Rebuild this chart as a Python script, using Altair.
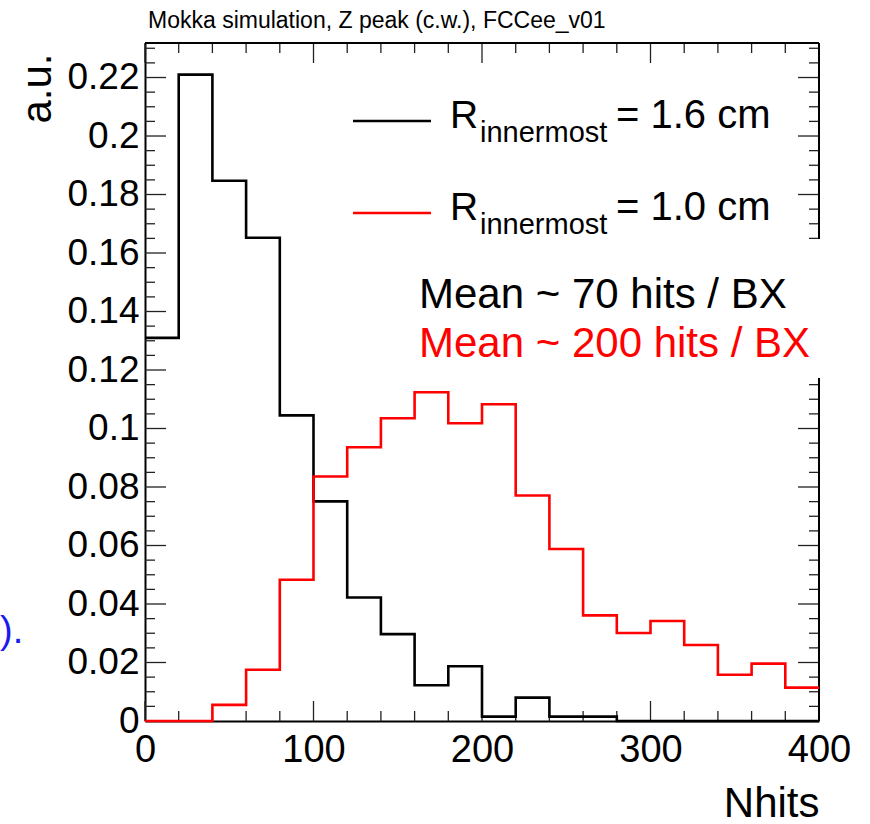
import altair as alt
import pandas as pd

FONT = "Liberation Sans"
W, H = 674, 678

# --- data -------------------------------------------------------------
bin_edges = [0, 20, 40, 60, 80, 100, 120, 140, 160, 180, 200,
             220, 240, 260, 280, 300, 320, 340, 360, 380, 400]
black_vals = [0.131, 0.221, 0.1847, 0.1652, 0.1045, 0.0751, 0.0422, 0.0297,
              0.0122, 0.0187, 0.0015, 0.008, 0.0015, 0.0015, 0.0, 0.0, 0.0,
              0.0, 0.0, 0.0]
red_vals = [0.0, 0.0, 0.0055, 0.0175, 0.0483, 0.0836, 0.0936, 0.1035,
            0.1124, 0.1018, 0.1083, 0.0771, 0.0588, 0.0361, 0.0301, 0.0342,
            0.026, 0.0158, 0.0196, 0.0114]

x_major = [0, 100, 200, 300, 400]
x_minor = [20, 40, 60, 80, 120, 140, 160, 180, 220, 240, 260, 280,
           320, 340, 360, 380]
y_major = [0, 0.02, 0.04, 0.06, 0.08, 0.1, 0.12, 0.14, 0.16, 0.18, 0.2, 0.22]
y_minor = [0.005, 0.01, 0.015, 0.025, 0.03, 0.035, 0.045, 0.05, 0.055,
           0.065, 0.07, 0.075, 0.085, 0.09, 0.095, 0.105, 0.11, 0.115,
           0.125, 0.13, 0.135, 0.145, 0.15, 0.155, 0.165, 0.17, 0.175,
           0.185, 0.19, 0.195, 0.205, 0.21, 0.215, 0.225, 0.23]
y_max = 0.2318

title_text = "Mokka simulation, Z peak (c.w.), FCCee_v01"
legend_sub = "innermost"
legend_vals = ["= 1.6 cm", "= 1.0 cm"]
mean_texts = ["Mean ~ 70 hits / BX", "Mean ~ 200 hits / BX"]


def step_df(vals):
    return pd.DataFrame({"nhits": bin_edges, "au": vals + [vals[-1]]})


xscale = alt.Scale(domain=[0, 400], nice=False, zero=False)
yscale = alt.Scale(domain=[0, y_max], nice=False, zero=False)

xaxis = alt.Axis(values=x_major, ticks=False, tickSize=0, grid=False,
                 domain=True, domainColor="black", domainWidth=2,
                 labelFont=FONT, labelFontSize=38, labelColor="black",
                 labelPadding=10, labelFlush=False,
                 title="Nhits", titleFont=FONT, titleFontSize=42,
                 titleFontWeight="normal", titleColor="black",
                 titleAlign="right", titleAnchor="end", titleBaseline="alphabetic",
                 titleX=W, titleY=95)
yaxis = alt.Axis(values=y_major, format="~g", ticks=False, tickSize=0,
                 grid=False, domain=True, domainColor="black", domainWidth=2,
                 labelFont=FONT, labelFontSize=37, labelColor="black",
                 labelPadding=6, labelFlush=False,
                 title="a.u.", titleFont=FONT, titleFontSize=42,
                 titleFontWeight="normal", titleColor="black",
                 titleAngle=270, titleAlign="right", titleAnchor="end",
                 titleBaseline="alphabetic", titleX=-95, titleY=10)

X = lambda f: alt.X(f, scale=xscale, axis=xaxis)
Y = lambda f: alt.Y(f, scale=yscale, axis=yaxis)


def hist(vals, color):
    return alt.Chart(step_df(vals)).mark_line(
        interpolate="step-after", color=color, strokeWidth=2.6
    ).encode(x=X("nhits:Q"), y=Y("au:Q"))


black = hist(black_vals, "black")
red = hist(red_vals, "#ff0000")

TICK_COLOR = "#222222"


def xticks(vals, L, top):
    base = alt.Chart(pd.DataFrame({"nhits": vals})).mark_rule(color=TICK_COLOR, strokeWidth=1.3)
    if top:
        return base.encode(x=X("nhits:Q"), y=alt.value(0), y2=alt.value(L))
    return base.encode(x=X("nhits:Q"), y=alt.value(H), y2=alt.value(H - L))


def yticks(vals, L, right):
    base = alt.Chart(pd.DataFrame({"au": vals})).mark_rule(color=TICK_COLOR, strokeWidth=1.3)
    if right:
        return base.encode(y=Y("au:Q"), x=alt.value(W), x2=alt.value(W - L))
    return base.encode(y=Y("au:Q"), x=alt.value(0), x2=alt.value(L))


ticks = [
    xticks(x_major, 20, False), xticks(x_minor, 10, False),
    xticks(x_major, 20, True), xticks(x_minor, 10, True),
    yticks(y_major, 21, False), yticks(y_minor, 10, False),
    yticks(y_major, 21, True), yticks(y_minor, 10, True),
]

one = pd.DataFrame({"d": [0]})

frame_top = alt.Chart(one).mark_rule(color="black", strokeWidth=2).encode(
    x=alt.value(0), x2=alt.value(W), y=alt.value(0))
frame_right = alt.Chart(one).mark_rule(color="black", strokeWidth=2).encode(
    x=alt.value(W), y=alt.value(0), y2=alt.value(H))

# white box behind the "Mean" annotations (covers frame on the right)
white_box = alt.Chart(one).mark_rect(color="white").encode(
    x=alt.value(265), x2=alt.value(692), y=alt.value(196), y2=alt.value(335))


def text(t, x, y, size, color="black", align="left"):
    return alt.Chart(one).mark_text(
        text=t, font=FONT, fontSize=size, color=color, align=align,
        baseline="alphabetic"
    ).encode(x=alt.value(x), y=alt.value(y))


legend_layers = []
for i, (col, val) in enumerate(zip(["black", "#ff0000"], legend_vals)):
    dy = i * 92
    legend_layers.append(
        alt.Chart(one).mark_rule(color=col, strokeWidth=2.6).encode(
            x=alt.value(208), x2=alt.value(286), y=alt.value(78 + dy)))
    legend_layers.append(text("R", 305, 85 + dy, 39))
    legend_layers.append(text(legend_sub, 335, 99 + dy, 29))
    legend_layers.append(text(val, 471, 85 + dy, 40))

mean_layers = [
    text(mean_texts[0], 274, 265, 42, "black"),
    text(mean_texts[1], 274, 314, 42, "#ff0000"),
]

title_layer = text(title_text, 3, -15, 23)
stray = text(").", -145, 600, 38, "#1a1aee")

chart = alt.layer(
    *ticks, frame_top, frame_right, black, red, white_box,
    *legend_layers, *mean_layers, title_layer, stray
).properties(
    width=W, height=H,
    autosize=alt.AutoSizeParams(type="none"),
    padding={"left": 145, "top": 43, "right": 51, "bottom": 103},
).configure_view(strokeWidth=0).configure(background="white")

chart.save("out.html", embed_options={"renderer": "svg", "actions": False})
